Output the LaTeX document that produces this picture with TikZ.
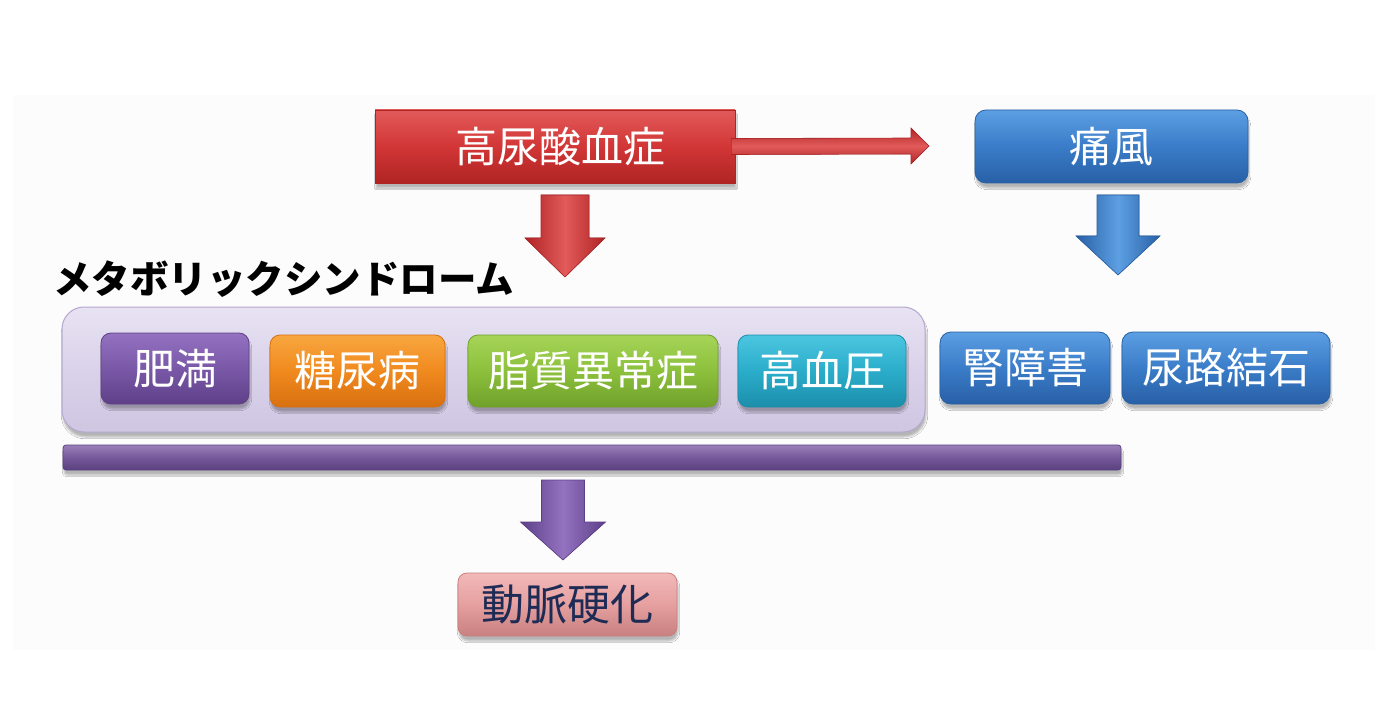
\documentclass[tikz,border=0pt]{standalone}
\usepackage{fontspec}
\newfontfamily\jp{Noto Sans CJK JP}
\usetikzlibrary{shadows.blur}
\definecolor{redA}{HTML}{E25A5A}
\definecolor{redB}{HTML}{D23636}
\definecolor{redC}{HTML}{B02424}
\definecolor{bluA}{HTML}{5D9FE2}
\definecolor{bluB}{HTML}{3A7CC8}
\definecolor{bluC}{HTML}{2860A6}
\definecolor{purA}{HTML}{9372C0}
\definecolor{purB}{HTML}{7A58A8}
\definecolor{purC}{HTML}{5E4088}
\definecolor{oraA}{HTML}{F8A640}
\definecolor{oraB}{HTML}{F08A1E}
\definecolor{oraC}{HTML}{D87010}
\definecolor{grnA}{HTML}{A6D458}
\definecolor{grnB}{HTML}{8CC03C}
\definecolor{grnC}{HTML}{70A02A}
\definecolor{cyaA}{HTML}{4CC6E0}
\definecolor{cyaB}{HTML}{2AADCA}
\definecolor{cyaC}{HTML}{1C8EAA}
\definecolor{lavA}{HTML}{E8E3F3}
\definecolor{lavB}{HTML}{DAD2EA}
\definecolor{lavC}{HTML}{CFC6E2}
\definecolor{lavD}{HTML}{B4A8CE}
\definecolor{barA}{HTML}{9A80BA}
\definecolor{barB}{HTML}{76589A}
\definecolor{barC}{HTML}{5A4080}
\definecolor{pnkA}{HTML}{F2B8B8}
\definecolor{pnkB}{HTML}{E6A0A0}
\definecolor{pnkC}{HTML}{C88080}
\definecolor{navy}{HTML}{1E2B55}
\begin{document}
\begin{tikzpicture}[x=1pt,y=-1pt,
  shd/.style={blur shadow={shadow xshift=1pt,shadow yshift=-5pt,shadow blur steps=6,shadow opacity=28}},
  boxbase/.style={shd,inner sep=0pt,text=white,font=\jp\fontsize{42}{42}\selectfont},
  redbox/.style={boxbase,top color=redA,bottom color=redC,middle color=redB,draw=redC,line width=0.8pt},
  blubox/.style={boxbase,rounded corners=11pt,top color=bluA,bottom color=bluC,middle color=bluB,draw=bluC,line width=0.8pt},
  purbox/.style={boxbase,rounded corners=10pt,top color=purA,bottom color=purC,middle color=purB,draw=purC,line width=0.8pt},
  orabox/.style={boxbase,rounded corners=10pt,top color=oraA,bottom color=oraC,middle color=oraB,draw=oraC,line width=0.8pt},
  grnbox/.style={boxbase,rounded corners=10pt,top color=grnA,bottom color=grnC,middle color=grnB,draw=grnC,line width=0.8pt},
  cyabox/.style={boxbase,rounded corners=10pt,top color=cyaA,bottom color=cyaC,middle color=cyaB,draw=cyaC,line width=0.8pt},
  pnkbox/.style={boxbase,rounded corners=9pt,top color=pnkA,bottom color=pnkC,middle color=pnkB,draw=pnkC,line width=0.8pt,text=navy,font=\jp\fontsize{43}{43}\selectfont},
  lavbox/.style={shd,rounded corners=22pt,top color=lavA,bottom color=lavC,middle color=lavB,draw=lavD,line width=1pt,inner sep=0pt},
  barstyle/.style={shd,rounded corners=3pt,top color=barA,bottom color=barC,middle color=barB,draw=barC,line width=0.8pt,inner sep=0pt},
  redarr/.style={left color=redC,right color=redC,middle color=redA,draw=redC,line width=0.6pt},
  bluarr/.style={left color=bluC,right color=bluC,middle color=bluA,draw=bluC,line width=0.6pt},
  purarr/.style={left color=purC,right color=purC,middle color=purA,draw=purC,line width=0.6pt},
  hredarr/.style={top color=redC,bottom color=redC,middle color=redA,draw=redC,line width=0.6pt},
]
\useasboundingbox (0,0) rectangle (1400,714);
\fill[white] (0,0) rectangle (1400,714);
\fill[black!1.2] (13,95) rectangle (1375,650);

% top row
\node[redbox,minimum width=360pt,minimum height=73pt] (hu) at (555,146.5) {\hspace*{10pt}高尿酸血症};
\node[blubox,minimum width=273pt,minimum height=73pt] (tf) at (1111.5,146.5) {痛風};

% horizontal arrow
\coordinate (ht) at (929,146);
\fill[hredarr] ([xshift=-4pt,yshift=8pt]hu.east) -- (911,138) -- (911,128) -- (ht) -- (911,164) -- (911,154) -- ([xshift=-4pt,yshift=-8pt]hu.east) -- cycle;

% down arrows
\coordinate (ra) at (565,195);
\fill[redarr] (ra) ++(-24,0) -- ++(48,0) -- ++(0,43) -- ++(16,0) -- ++(-40,39) -- ++(-40,-39) -- ++(16,0) -- cycle;
\coordinate (ba) at (1118,195);
\fill[bluarr] (ba) ++(-21,0) -- ++(42,0) -- ++(0,41) -- ++(21,0) -- ++(-42,39) -- ++(-42,-39) -- ++(21,0) -- cycle;

% metabolic syndrome label
\node[anchor=west,inner sep=0pt,font=\jp\bfseries\fontsize{38.5}{38.5}\selectfont] (ms) at (53,279) {メタボリックシンドローム};

% lavender container
\node[lavbox,minimum width=863pt,minimum height=125pt] (mbox) at (493.5,369.5) {};
\node[purbox,minimum width=148pt,minimum height=71pt] (hm) at (175,368.5) {肥満};
\node[orabox,minimum width=175pt,minimum height=72pt] (tn) at (357.5,371) {糖尿病};
\node[grnbox,minimum width=250pt,minimum height=72pt] (ss) at (593,371) {脂質異常症};
\node[cyabox,minimum width=168pt,minimum height=72pt] (kk) at (822,371) {高血圧};

% kidney boxes
\node[blubox,minimum width=170pt,minimum height=72pt] (jn) at (1025,368) {腎障害};
\node[blubox,minimum width=208pt,minimum height=72pt] (nr) at (1226,368) {尿路結石};

% purple bar
\node[barstyle,minimum width=1058pt,minimum height=25pt] (bar) at (592,457.5) {};

% purple arrow
\coordinate (pa) at (563,480);
\fill[purarr] (pa) ++(-21.5,0) -- ++(43,0) -- ++(0,42) -- ++(21,0) -- ++(-42.5,38) -- ++(-42.5,-38) -- ++(21,0) -- cycle;

% arteriosclerosis
\node[pnkbox,minimum width=219pt,minimum height=63pt] (dm) at (567.5,604.5) {動脈硬化};
\end{tikzpicture}
\end{document}
